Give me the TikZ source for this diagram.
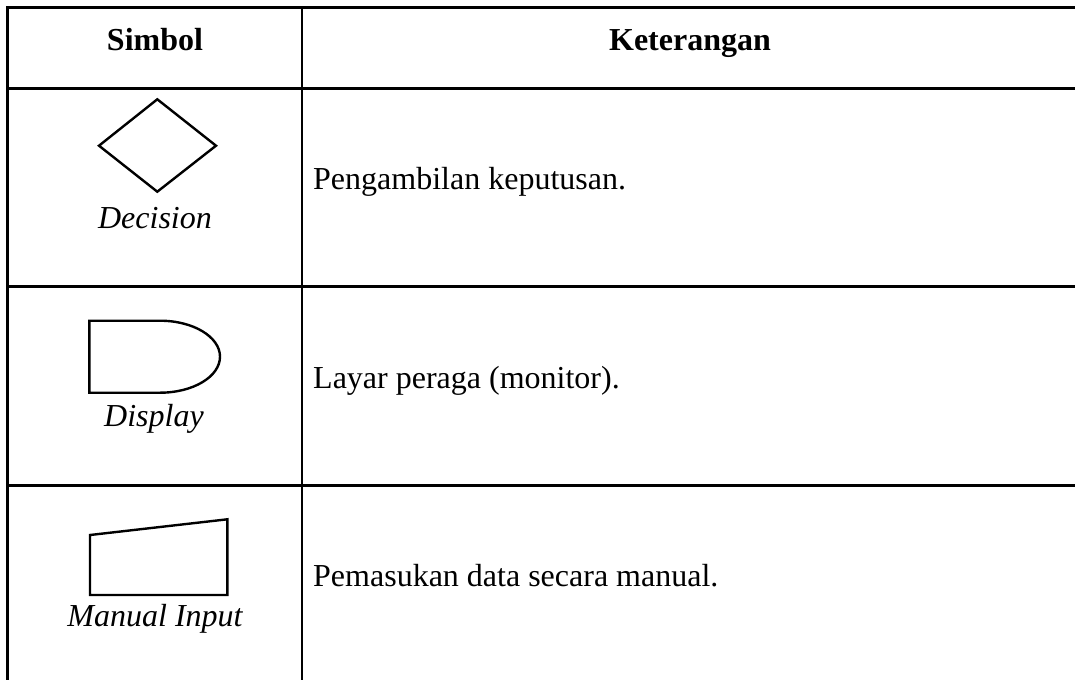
\documentclass[tikz,border=0pt]{standalone}
\usepackage{fontspec}
\setmainfont{Liberation Serif}
\begin{document}
\begin{tikzpicture}[x=1pt,y=-1pt,
  rule/.style={line width=2.4pt},
  sym/.style={line width=2.4pt, line join=miter},
  hdr/.style={font=\fontsize{32}{38}\selectfont\bfseries, inner sep=0pt, anchor=base},
  lbl/.style={font=\fontsize{32}{38}\selectfont\itshape, inner sep=0pt, anchor=base},
  desc/.style={font=\fontsize{32}{38}\selectfont, inner sep=0pt, anchor=base west}]
\useasboundingbox (0,0) rectangle (1075,680);
% table rules
\draw[rule] (7,7.5) -- (1075,7.5);
\draw[rule] (7,88.5) -- (1075,88.5);
\draw[rule] (7,286.5) -- (1075,286.5);
\draw[rule] (7,485.5) -- (1075,485.5);
\draw[rule] (7.5,6.3) -- (7.5,680);
\draw[rule] (302,6.3) -- (302,680);
% header
\node[hdr] (hsym) at (155,50) {Simbol};
\node[hdr] (hket) at (690,50) {Keterangan};
% decision
\draw[sym] (99,145.7) -- (157.3,99.3) -- (216,145.7) -- (157.3,191.7) -- cycle;
\node[lbl] (ldec) at (155,228) {Decision};
\node[desc] (ddec) at (313,189) {Pengambilan keputusan.};
% display
\draw[sym] (160,320.7) -- (89.3,320.7) -- (89.3,392.7) -- (160,392.7)
  arc[start angle=-90, end angle=90, x radius=60pt, y radius=36pt];
\node[lbl] (ldis) at (154,426.5) {Display};
\node[desc] (ddis) at (313,388) {Layar peraga (monitor).};
% manual input
\draw[sym] (90,535) -- (227.3,519.3) -- (227.3,595) -- (90,595) -- cycle;
\node[lbl] (lman) at (155,626) {Manual Input};
\node[desc] (dman) at (313,586) {Pemasukan data secara manual.};
\end{tikzpicture}
\end{document}
